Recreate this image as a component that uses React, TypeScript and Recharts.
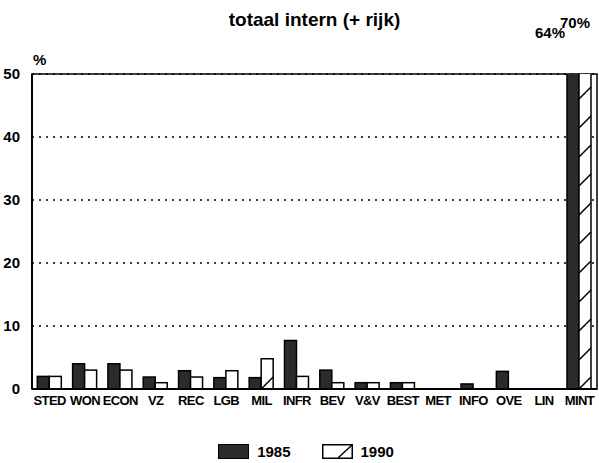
import React from 'react';
import { BarChart, Bar, XAxis, YAxis, CartesianGrid, ReferenceArea, Legend, LabelList } from 'recharts';

const categories = ['STED', 'WON', 'ECON', 'VZ', 'REC', 'LGB', 'MIL', 'INFR', 'BEV', 'V&V', 'BEST', 'MET', 'INFO', 'OVE', 'LIN', 'MINT'];
const values1985 = [2, 4, 4, 1.9, 2.9, 1.8, 1.8, 7.7, 3, 1, 1, 0, 0.8, 2.8, 0, 64];
const values1990 = [2, 3, 3, 1, 1.9, 2.9, 4.8, 2, 1, 1, 1, 0, 0, 0, 0, 70];
const yTicks = [0, 10, 20, 30, 40, 50];
const Y_MAX = 50;
const seriesNames = ['1985', '1990'];

const data = categories.map((c, i) => ({ cat: c, v1985: values1985[i], v1990: values1990[i] }));

const FONT = '"Liberation Sans", Arial, Helvetica, sans-serif';
const TOP = 74;

const HatchBar = (props: any) => {
  const { x, y, width, height } = props;
  if (!height || height <= 0) return null;
  const lines: React.ReactNode[] = [];
  const bottom = y + height;
  if (height >= 2 * width) {
    for (let yb = bottom; yb - width >= y; yb -= 29) {
      lines.push(<line key={yb} x1={x} y1={yb} x2={x + width} y2={yb - width} stroke="#000" strokeWidth={1.5} />);
    }
  }
  return (
    <g>
      <rect x={x} y={y} width={width} height={height} fill="#fff" stroke="#000" strokeWidth={1.5} />
      {lines}
    </g>
  );
};

const SolidBar = (props: any) => {
  const { x, y, width, height } = props;
  if (!height || height <= 0) return null;
  return <rect x={x} y={y} width={width} height={height} fill="#2b2b2b" stroke="#000" strokeWidth={1.5} />;
};

const overLabel = (series: number) => (props: any) => {
  const { x, width, value } = props;
  if (value <= Y_MAX) return null;
  const tx = series === 0 ? x - 2 : x + width - 1;
  const ty = series === 0 ? TOP - 36 : TOP - 46;
  return (
    <text x={tx} y={ty} textAnchor="end" fontFamily={FONT} fontWeight="bold" fontSize={15} fill="#000">
      {`${value}%`}
    </text>
  );
};

const renderLegend = (props: any) => {
  const payload = props.payload || [];
  return (
    <div style={{ display: 'flex', justifyContent: 'center', alignItems: 'center', paddingLeft: 15, fontFamily: FONT, fontWeight: 'bold', fontSize: 15, color: '#000', height: 20 }}>
      {payload.map((entry: any, i: number) => (
        <div key={i} style={{ display: 'flex', alignItems: 'center', marginLeft: i === 0 ? 0 : 31 }}>
          <svg width={31} height={15} style={{ display: 'block' }}>
            {i === 0 ? (
              <rect x={0.5} y={0.5} width={30} height={14} fill="#2b2b2b" stroke="#000" />
            ) : (
              <g>
                <rect x={0.75} y={0.75} width={29.5} height={13.5} fill="#fff" stroke="#000" strokeWidth={1.5} />
                <line x1={16} y1={14} x2={30} y2={1} stroke="#000" strokeWidth={1.5} />
              </g>
            )}
          </svg>
          <span style={{ marginLeft: 8 }}>{entry.value}</span>
        </div>
      ))}
    </div>
  );
};

export default function App() {
  return (
    <div style={{ position: 'absolute', left: 0, top: 0, width: 599, height: 463, background: '#fff' }}>
      <div style={{ position: 'absolute', left: 32, top: 10, width: 565, textAlign: 'center', fontFamily: FONT, fontWeight: 'bold', fontSize: 19, lineHeight: 1, color: '#000' }}>
        totaal intern (+ rijk)
      </div>
      <BarChart width={599} height={463} data={data} margin={{ top: TOP, right: 2, left: 0, bottom: 2 }} barCategoryGap="15%" barGap={0}>
        <CartesianGrid vertical={false} stroke="#000" strokeDasharray="2 5" strokeWidth={1.5} />
        <ReferenceArea
          y1={0}
          y2={Y_MAX}
          fill="none"
          fillOpacity={0}
          stroke="#000"
          strokeWidth={1.5}
          label={(p: any) => (
            <text x={p.viewBox.x + 1} y={p.viewBox.y - 9} fontFamily={FONT} fontWeight="bold" fontSize={15} fill="#000">%</text>
          )}
        />
        <XAxis
          dataKey="cat"
          interval={0}
          height={52}
          tickLine={false}
          tickMargin={1}
          axisLine={{ stroke: '#000', strokeWidth: 2 }}
          tick={{ fontSize: 13, fontWeight: 'bold', fill: '#000', fontFamily: FONT, letterSpacing: -0.6 }}
        />
        <YAxis
          domain={[0, Y_MAX]}
          ticks={yTicks}
          allowDataOverflow
          width={32}
          tickLine={false}
          tickMargin={6}
          axisLine={{ stroke: '#000', strokeWidth: 2 }}
          tick={{ fontSize: 15, fontWeight: 'bold', fill: '#000', fontFamily: FONT }}
        />
        <Legend verticalAlign="bottom" height={20} content={renderLegend} />
        <Bar dataKey="v1985" name={seriesNames[0]} fill="#2b2b2b" shape={<SolidBar />} isAnimationActive={false}>
          <LabelList dataKey="v1985" content={overLabel(0)} />
        </Bar>
        <Bar dataKey="v1990" name={seriesNames[1]} fill="#fff" shape={<HatchBar />} isAnimationActive={false}>
          <LabelList dataKey="v1990" content={overLabel(1)} />
        </Bar>
      </BarChart>
    </div>
  );
}
